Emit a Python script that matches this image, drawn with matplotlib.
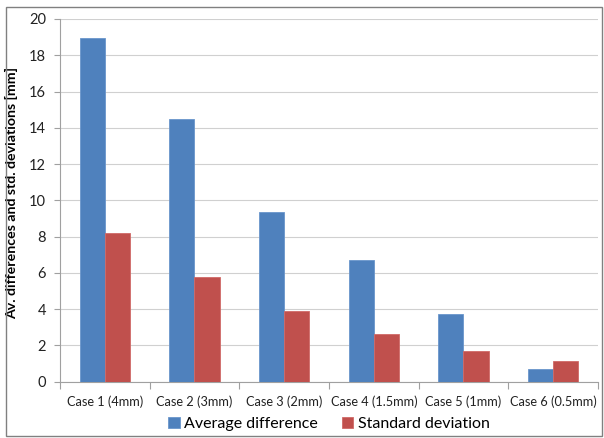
import matplotlib
matplotlib.use("Agg")
import matplotlib.pyplot as plt
from matplotlib.patches import Rectangle
import numpy as np

categories = ["Case 1 (4mm)", "Case 2 (3mm)", "Case 3 (2mm)", "Case 4 (1.5mm)", "Case 5 (1mm)", "Case 6 (0.5mm)"]
avg_diff = [18.95, 14.5, 9.35, 6.72, 3.73, 0.70]
std_dev = [8.2, 5.8, 3.88, 2.63, 1.72, 1.13]
series_names = ["Average difference", "Standard deviation"]
yticks = [0, 2, 4, 6, 8, 10, 12, 14, 16, 18, 20]

plt.rcParams['font.family'] = ['Lato', 'DejaVu Sans']

W, H = 604, 438
fig = plt.figure(figsize=(W/100, H/100), dpi=100)
ax = fig.add_axes([60/W, 1-381.7/H, (598-60)/W, (381.7-19)/H])

x = np.arange(len(categories))
bw = 0.28
ax.bar(x - bw/2, avg_diff, bw, color="#4F81BD", edgecolor="#6A96CC", linewidth=0.6, label=series_names[0], zorder=3)
ax.bar(x + bw/2, std_dev, bw, color="#C0504D", edgecolor="#D06A67", linewidth=0.6, label=series_names[1], zorder=3)

ax.set_xlim(-0.5, len(categories) - 0.5)
ax.set_ylim(0, 20)
ax.set_yticks(yticks)
ax.set_yticklabels([str(v) for v in yticks], fontsize=10.5, color="#222222")
ax.yaxis.grid(True, color="#D0D0D0", linewidth=0.8, zorder=0)
ax.set_axisbelow(True)

ax.set_xticks(x)
ax.set_xticklabels(categories, fontsize=9.2, color="#222222")
ax.set_xticks(np.arange(-0.5, len(categories)), minor=True)
ax.tick_params(axis='x', which='major', length=0, pad=10)
ax.tick_params(axis='x', which='minor', length=5, color="#A0A0A0", width=0.8)
ax.tick_params(axis='y', length=4, color="#A0A0A0", width=0.8, pad=6)

for s in ["top", "right"]:
    ax.spines[s].set_visible(False)
for s in ["left", "bottom"]:
    ax.spines[s].set_color("#A0A0A0")
    ax.spines[s].set_linewidth(0.8)

ax.set_ylabel("Av. differences and std. deviations [mm]", fontsize=10.2, fontweight="bold")
ax.yaxis.set_label_coords((18-60)/538, 0.52)

leg = fig.legend(loc="center", bbox_to_anchor=(0.545, 1-424/H), ncol=2, frameon=False,
                 fontsize=11.5, handlelength=0.7, handleheight=0.7, handletextpad=0.3, columnspacing=1.5)

fig.patches.append(Rectangle((6/W, 1-436/H), (602-6)/W, (436-7)/H, transform=fig.transFigure,
                             fill=False, edgecolor="#808080", linewidth=1.0))

fig.savefig("out.png", dpi=100)
